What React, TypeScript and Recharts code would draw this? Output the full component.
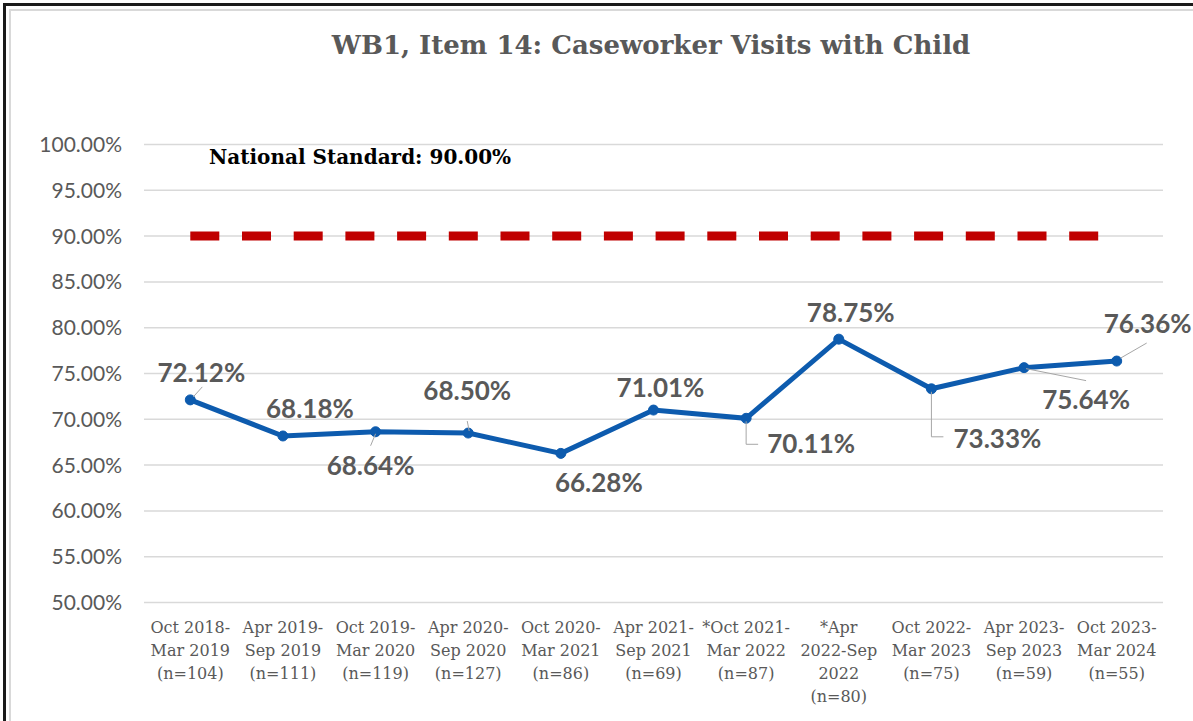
import React from "react";
import { CartesianGrid, LabelList, Line, LineChart, XAxis, YAxis } from "recharts";

const categories = [
  "Oct 2018-\nMar 2019\n(n=104)",
  "Apr 2019-\nSep 2019\n(n=111)",
  "Oct 2019-\nMar 2020\n(n=119)",
  "Apr 2020-\nSep 2020\n(n=127)",
  "Oct 2020-\nMar 2021\n(n=86)",
  "Apr 2021-\nSep 2021\n(n=69)",
  "*Oct 2021-\nMar 2022\n(n=87)",
  "*Apr\n2022-Sep\n2022\n(n=80)",
  "Oct 2022-\nMar 2023\n(n=75)",
  "Apr 2023-\nSep 2023\n(n=59)",
  "Oct 2023-\nMar 2024\n(n=55)",
];
const visitRates = [72.12, 68.18, 68.64, 68.5, 66.28, 71.01, 70.11, 78.75, 73.33, 75.64, 76.36];
const nationalStandard = [90, 90, 90, 90, 90, 90, 90, 90, 90, 90, 90];
const yTicks = [50, 55, 60, 65, 70, 75, 80, 85, 90, 95, 100];

const data = categories.map((cat, i) => ({
  cat,
  rate: visitRates[i],
  std: nationalStandard[i],
}));

const GRAY = "#595959";
const SERIF = "'DejaVu Serif', serif";
const SANS = "Lato, 'Open Sans', sans-serif";

// label placement relative to each point, plus leader line (Excel-style)
const labelPos: { dx: number; dy: number; leader?: number[][] }[] = [
  { dx: 11, dy: -28, leader: [[3, -3], [12, -13]] },
  { dx: 27, dy: -28 },
  { dx: -5, dy: 33, leader: [[0, 2], [-5, 14]] },
  { dx: -1, dy: -43, leader: [[-1, -12], [1, -2]] },
  { dx: 38, dy: 29 },
  { dx: 7, dy: -23 },
  { dx: 65, dy: 25, leader: [[0, 3], [0, 26], [12, 26]] },
  { dx: 12, dy: -27 },
  { dx: 66, dy: 49, leader: [[0, 3], [0, 48], [12, 48]] },
  { dx: 62, dy: 31, leader: [[2, 1], [62, 13]] },
  { dx: 31, dy: -38, leader: [[4, -3], [30, -18]] },
];

function XTick(props: any) {
  const { x, y, payload } = props;
  const lines = String(payload.value).split("\n");
  return (
    <text x={x} y={y} textAnchor="middle" fill={GRAY} fontFamily={SERIF} fontSize={16}>
      {lines.map((l, i) => (
        <tspan key={i} x={x} dy={i === 0 ? 22 : 23}>
          {l}
        </tspan>
      ))}
    </text>
  );
}

function RateLabel(props: any) {
  const { x, y, value, index } = props;
  const pos = labelPos[index];
  if (!pos) return null;
  const pts = pos.leader ? pos.leader.map((p) => `${x + p[0]},${y + p[1]}`).join(" ") : null;
  return (
    <g>
      {pts && <polyline points={pts} fill="none" stroke="#A6A6A6" strokeWidth={1} />}
      <text
        x={x + pos.dx}
        y={y + pos.dy}
        textAnchor="middle"
        dominantBaseline="central"
        fill={GRAY}
        fontFamily={SANS}
        fontWeight={700}
        fontSize={26}
      >
        {Number(value).toFixed(2)}%
      </text>
    </g>
  );
}

export default function App() {
  return (
    <div
      style={{
        position: "absolute",
        left: 0,
        top: 0,
        width: 1193,
        height: 721,
        background: "#fff",
        overflow: "hidden",
      }}
    >
      <div
        style={{
          position: "absolute",
          left: 3,
          top: 3,
          width: 1210,
          height: 740,
          border: "3px solid #1a1a1a",
        }}
      />
      <div
        style={{
          position: "absolute",
          left: 9,
          top: 9,
          width: 1200,
          height: 730,
          border: "2px solid #d9d9d9",
        }}
      />
      <div
        style={{
          position: "absolute",
          left: 0,
          top: 30,
          width: 1302,
          textAlign: "center",
          fontFamily: SERIF,
          fontWeight: 700,
          fontSize: 26,
          color: GRAY,
        }}
      >
        WB1, Item 14: Caseworker Visits with Child
      </div>
      <div
        style={{
          position: "absolute",
          left: 209,
          top: 145,
          fontFamily: SERIF,
          fontWeight: 700,
          fontSize: 20,
          color: "#000",
          whiteSpace: "nowrap",
        }}
      >
        National Standard: 90.00%
      </div>
      <LineChart
        width={1193}
        height={721}
        data={data}
        margin={{ top: 144.5, right: 30, left: 0, bottom: 8.5 }}
        style={{ position: "absolute", left: 0, top: 0 }}
      >
        <CartesianGrid vertical={false} stroke="#D9D9D9" strokeWidth={1.5} />
        <XAxis
          dataKey="cat"
          axisLine={false}
          tickLine={false}
          interval={0}
          height={110}
          padding={{ left: 46.3, right: 46.3 }}
          tick={<XTick />}
        />
        <YAxis
          domain={[50, 100]}
          ticks={yTicks}
          width={144}
          axisLine={false}
          tickLine={false}
          tickFormatter={(v: number) => `${v.toFixed(2)}%`}
          tick={{ fill: GRAY, fontFamily: SANS, fontSize: 21 }}
          tickMargin={16}
        />
        <Line
          dataKey="std"
          stroke="#C00000"
          strokeWidth={9}
          strokeDasharray="29 22.7"
          dot={false}
          activeDot={false}
          isAnimationActive={false}
        />
        <Line
          dataKey="rate"
          stroke="#0D5BAE"
          strokeWidth={5}
          dot={{ r: 5, fill: "#0D5BAE", stroke: "#0D5BAE", strokeWidth: 1 }}
          activeDot={false}
          isAnimationActive={false}
        >
          <LabelList dataKey="rate" content={<RateLabel />} />
        </Line>
      </LineChart>
    </div>
  );
}
